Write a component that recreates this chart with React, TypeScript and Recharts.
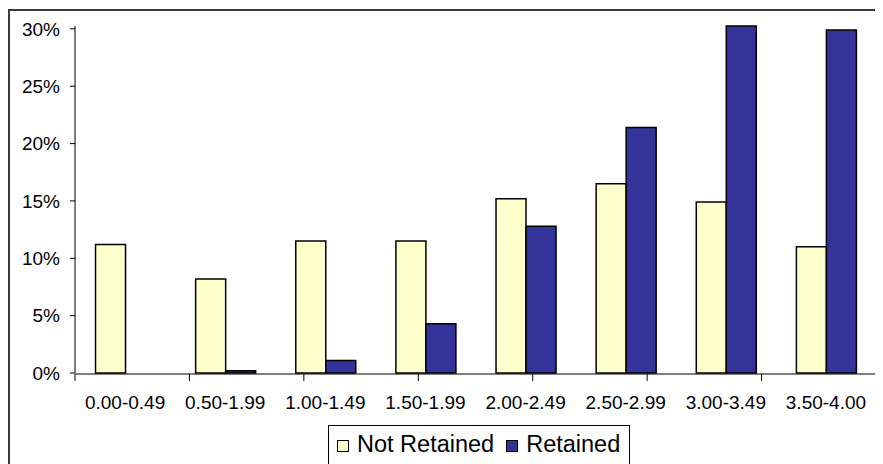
import { BarChart, Bar, XAxis, YAxis, Legend } from "recharts";

// GPA bands and the share of students in each, by retention status (%)
const ranges = [
  "0.00-0.49",
  "0.50-1.99",
  "1.00-1.49",
  "1.50-1.99",
  "2.00-2.49",
  "2.50-2.99",
  "3.00-3.49",
  "3.50-4.00",
];
const notRetained = [11.2, 8.2, 11.5, 11.5, 15.2, 16.5, 14.9, 11.0];
const retained = [0, 0.2, 1.1, 4.3, 12.8, 21.4, 30.25, 29.9];
const yTicks = [0, 5, 10, 15, 20, 25, 30];
// band boundaries, used for the tick marks between categories
const bandEdges = [0, 1, 2, 3, 4, 5, 6, 7, 8];

const data = ranges.map((range, i) => ({
  range,
  notRetained: notRetained[i],
  retained: retained[i],
}));

const FONT = '"Liberation Sans", Arial, sans-serif';
const YELLOW = "#FFFFCC";
const BLUE = "#333399";
const TICK_FONT = 19;

const XTick = (props: any) => (
  <text
    x={props.x}
    y={props.y}
    dy="0.71em"
    textAnchor="middle"
    fill="#000"
    fontSize={TICK_FONT}
    fontFamily={FONT}
  >
    {props.payload.value}
  </text>
);

const YTick = (props: any) => (
  <text
    x={props.x}
    y={props.y}
    dy="0.355em"
    textAnchor="end"
    fill="#000"
    fontSize={TICK_FONT}
    fontFamily={FONT}
  >
    {`${props.payload.value}%`}
  </text>
);

function LegendBox() {
  const swatch = (color: string) => ({
    display: "inline-block",
    width: 12,
    height: 12,
    boxSizing: "border-box" as const,
    border: "1px solid #000",
    background: color,
    marginRight: 8,
  });
  return (
    <div
      style={{
        width: 302,
        height: 60,
        boxSizing: "border-box",
        border: "1.5px solid #000",
        paddingTop: 5,
        paddingLeft: 8,
        fontFamily: FONT,
        fontSize: 23.5,
        lineHeight: "26px",
        color: "#000",
        whiteSpace: "nowrap",
        background: "#fff",
      }}
    >
      <span style={swatch(YELLOW)} />
      <span style={{ marginRight: 12 }}>Not Retained</span>
      <span style={swatch(BLUE)} />
      <span>Retained</span>
    </div>
  );
}

export default function App() {
  return (
    <div
      style={{
        position: "relative",
        width: 875,
        height: 456,
        overflow: "hidden",
        background: "#fff",
      }}
    >
      <div
        style={{
          position: "absolute",
          left: 0,
          top: 1,
          width: 1000,
          height: 1000,
          borderLeft: "2px solid #3a3a3a",
          borderTop: "2px solid #3a3a3a",
          pointerEvents: "none",
        }}
      />
      <BarChart
        width={875}
        height={456}
        data={data}
        margin={{ top: 18, right: 7, bottom: 89, left: 0 }}
        barCategoryGap="20.5%"
        barGap={0}
        style={{ fontFamily: FONT }}
      >
        <XAxis
          xAxisId="edges"
          type="number"
          domain={[0, 8]}
          ticks={bandEdges}
          allowDataOverflow
          tick={() => <g />}
          tickSize={7}
          height={1}
          axisLine={{ stroke: "#000" }}
          tickLine={{ stroke: "#000" }}
        />
        <XAxis
          xAxisId="cat"
          dataKey="range"
          interval={0}
          height={1}
          axisLine={false}
          tickLine={false}
          tickSize={6}
          tickMargin={17}
          tick={XTick}
        />
        <YAxis
          domain={[0, "dataMax"]}
          ticks={yTicks}
          width={67}
          tickSize={5}
          tickMargin={10}
          axisLine={{ stroke: "#000" }}
          tickLine={{ stroke: "#000" }}
          tick={YTick}
        />
        <Legend
          layout="horizontal"
          verticalAlign="middle"
          align="center"
          wrapperStyle={{ left: 320, top: 417, width: 302, height: 60 }}
          content={() => <LegendBox />}
        />
        <Bar
          xAxisId="cat"
          dataKey="notRetained"
          name="Not Retained"
          fill={YELLOW}
          stroke="#000"
          strokeWidth={1.5}
          isAnimationActive={false}
        />
        <Bar
          xAxisId="cat"
          dataKey="retained"
          name="Retained"
          fill={BLUE}
          stroke="#000"
          strokeWidth={1.5}
          isAnimationActive={false}
        />
      </BarChart>
    </div>
  );
}
